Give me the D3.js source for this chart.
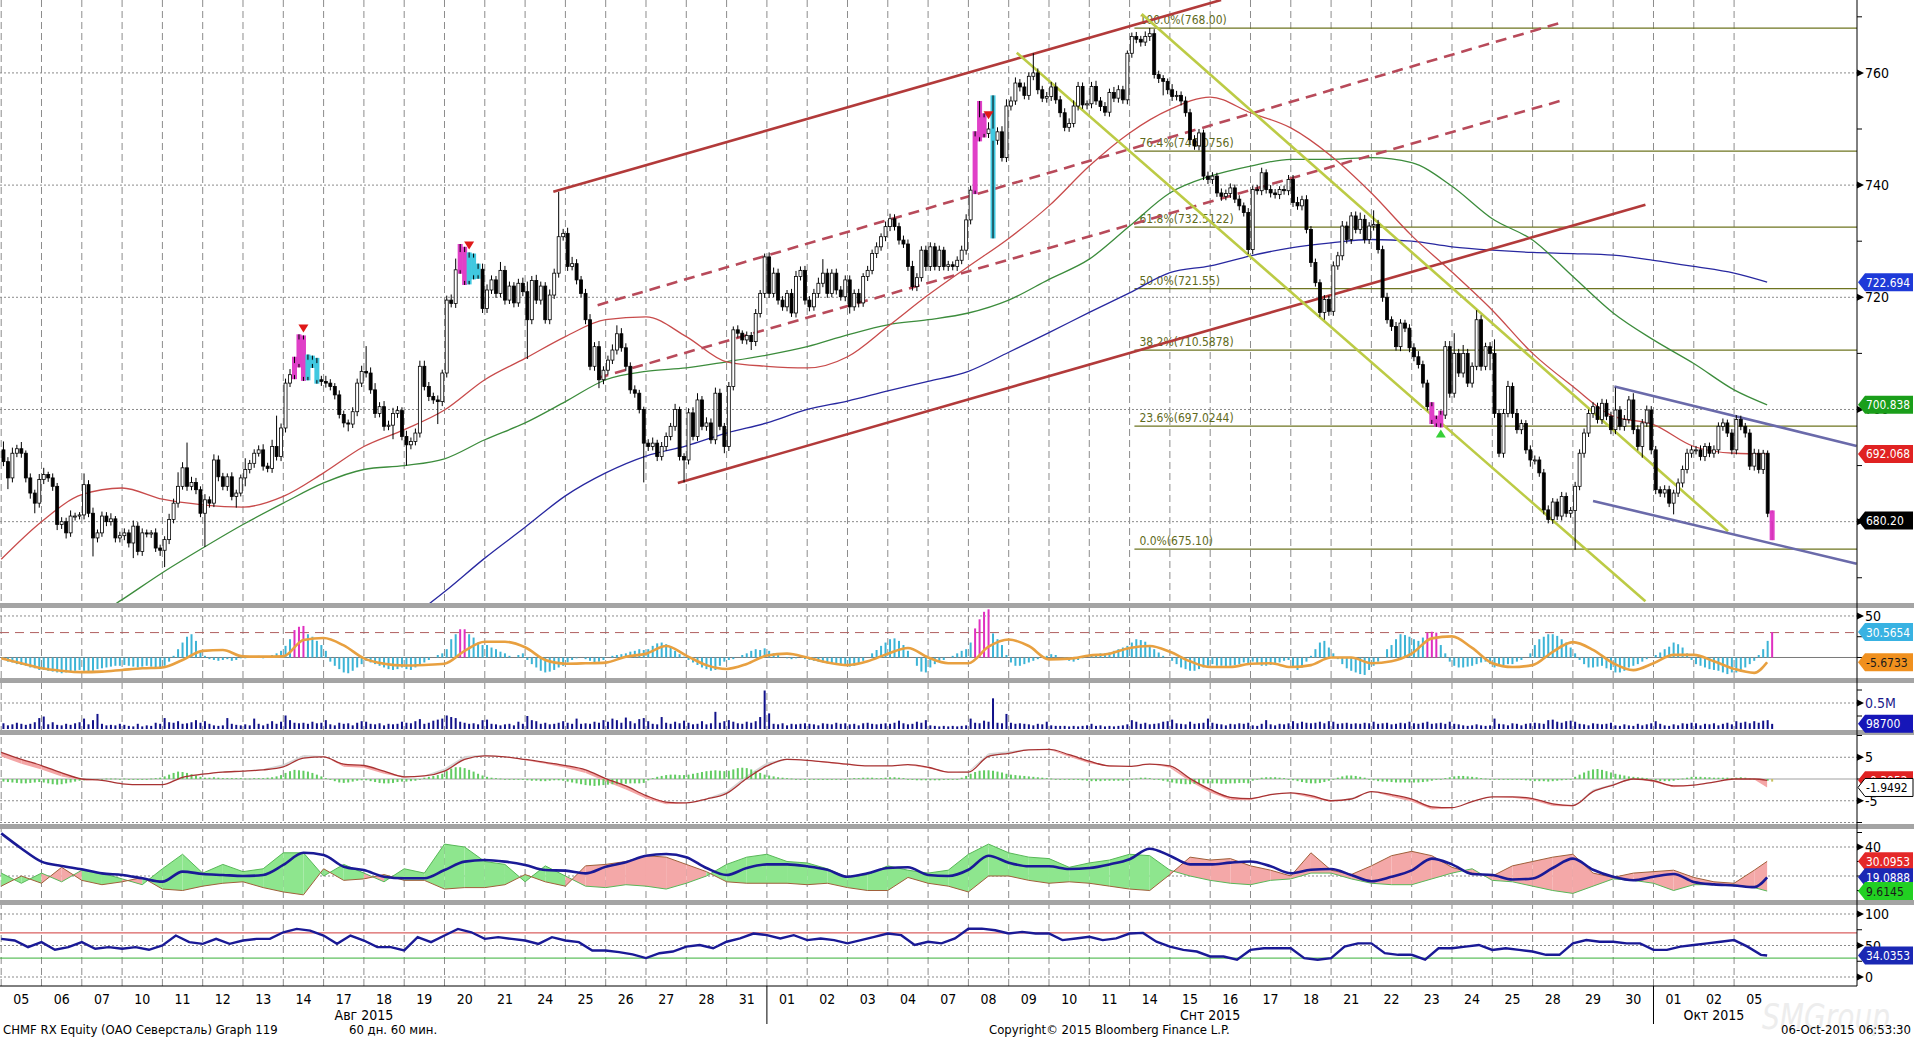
<!DOCTYPE html>
<html>
<head>
<meta charset="utf-8">
<script src="https://cdnjs.cloudflare.com/ajax/libs/d3/7.8.5/d3.min.js"></script>
<style>
  body { margin: 0; background: #fff; }
  svg { display: block; }
  text { font-family: "Liberation Sans Narrow", "DejaVu Sans Condensed", "Liberation Sans", sans-serif; }
</style>
</head>
<body>
<div id="chart"></div>
<script>
// ---- data (60 min bars, 9 per trading day) ----
const days = ["05","06","07","10","11","12","13","14","17","18","19","20","21","24","25","26","27","28","31",
  "01","02","03","04","07","08","09","10","11","14","15","16","17","18","21","22","23","24","25","28","29","30",
  "01","02","05"];
const months = [
  {name: "Авг 2015", from: -1, to: 19},
  {name: "Снт 2015", from: 19, to: 41},
  {name: "Окт 2015", from: 41, to: 44}
];

const firstOpen = 692.8;
const closes = [
  [690.7,687.8,692.2,693.0,692.2,687.8,685.1,683.3,687.5],
  [688.4,687.8,686.3,679.5,680.0,678.0,681.0,681.0,681.2],
  [686.6,681.5,677.1,678.0,681.0,680.0,680.5,677.1,677.5],
  [678.0,676.2,679.2,674.7,678.0,677.8,678.0,675.3,674.9],
  [676.8,680.4,683.3,686.3,689.6,686.3,687.0,685.7,681.5],
  [683.9,683.3,691.0,688.0,686.3,688.0,684.5,685.1,687.8],
  [689.3,690.4,692.2,692.8,689.9,689.5,693.4,691.6,696.7],
  [704.7,706.2,708.2,712.4,705.9,708.8,708.2,705.3,705.0],
  [704.7,704.1,702.6,699.1,697.6,697.4,699.6,704.7,706.8],
  [706.5,703.5,699.3,700.5,697.0,697.2,699.3,699.8,695.2],
  [693.7,694.3,695.8,707.7,704.1,702.3,701.7,701.4,706.5],
  [719.5,718.9,724.9,728.0,723.0,727.0,724.0,725.0,718.0],
  [721.3,723.1,720.7,724.8,719.5,722.0,719.0,722.5,721.0],
  [716.0,723.0,719.5,722.0,716.0,720.4,724.3,730.8,731.4],
  [725.5,726.0,723.1,720.7,716.0,707.7,711.2,705.3,707.0],
  [708.8,710.6,713.5,711.0,707.7,703.5,702.9,700.0,694.0],
  [693.4,694.0,691.6,693.4,695.2,697.0,700.0,691.6,691.0],
  [699.4,695.2,701.7,697.0,697.6,694.6,702.9,697.0,693.4],
  [704.1,714.2,713.6,712.4,713.2,712.1,717.1,720.7,727.2],
  [720.7,724.3,719.5,718.3,720.7,717.2,723.7,724.8,719.5],
  [718.3,720.7,722.5,724.3,720.7,724.3,721.3,720.1,723.1],
  [718.3,720.7,719.0,723.7,724.8,727.8,729.0,730.8,732.6],
  [734.0,732.6,730.2,729.5,725.5,721.9,723.5,728.4,725.5],
  [729.0,725.5,728.4,725.5,725.8,725.5,726.6,728.4,733.8],
  [739.1,748.6,752.0,749.2,750.0,748.0,749.5,744.9,754.1],
  [755.0,758.2,757.5,756.0,759.4,760.0,757.0,755.5,755.8],
  [757.5,755.2,752.9,750.3,751.0,754.1,757.6,754.3,754.5],
  [757.6,755.0,754.0,753.0,756.5,755.5,757.0,755.2,763.5],
  [766.5,766.0,765.5,766.5,767.0,759.7,759.0,758.5,757.0],
  [755.8,756.0,755.0,752.9,748.1,747.0,749.3,741.6,741.0],
  [741.6,738.6,738.0,738.5,739.5,737.5,736.3,735.1,728.5],
  [739.2,739.0,742.2,739.2,738.6,738.3,739.2,739.0,741.0],
  [736.9,736.3,737.4,732.1,726.2,722.6,717.3,719.6,717.5],
  [725.6,727.4,732.7,730.3,734.5,732.1,733.9,730.3,732.7],
  [733.0,728.5,720.0,716.0,714.8,711.2,715.4,714.5,711.0],
  [709.4,708.0,704.7,700.5,698.2,697.6,699.0,711.2,702.9],
  [710.0,706.5,710.0,704.7,707.7,716.0,707.7,711.2,710.0],
  [699.3,692.2,699.3,704.1,699.3,696.4,697.5,692.8,691.0],
  [691.0,688.7,682.1,680.4,683.5,681.0,684.5,681.5,682.0],
  [686.3,692.2,695.8,699.3,700.5,698.2,701.1,698.8,696.4],
  [699.9,697.0,698.2,701.7,696.4,693.4,697.6,699.9,692.8],
  [685.7,685.1,685.7,683.3,685.1,686.9,689.3,692.2,692.8],
  [692.8,691.6,693.4,692.2,692.8,697.0,697.6,695.8,692.8],
  [698.2,697.0,695.8,689.9,692.2,689.3,692.2,681.5,680.2]
].flat();

// shadow length above / below the body of each bar
const wickHi = [
  [1.5,0.8,1,0.7,1.2,0.5,0.8,0.6,1],[1.2,0.5,0.8,0.6,0.8,0.7,1,0.6,0.5],[2,0.8,1,0.6,0.8,0.7,1,0.5,0.7],
  [0.8,0.6,1,0.7,0.8,0.6,0.5,0.8,0.6],[0.6,1,0.8,2.5,1,4.5,1,0.8,0.6],[1,0.6,1,0.8,0.7,0.6,0.8,0.6,0.6],
  [2,0.6,0.7,0.8,1,0.6,1.2,5.5,0.8],[0.8,1,1.2,1,0.8,1,0.8,1,0.7],[1,0.7,0.6,0.8,0.7,0.6,0.8,0.8,1],
  [4.5,1,1.2,0.8,1,0.8,1,0.8,0.6],[1,0.7,0.8,1,1,0.8,0.7,0.8,0.6],[0.8,1,2,1.5,1,1,0.8,1,1],
  [1,0.8,0.7,1.5,0.8,0.8,0.7,0.8,1],[1.8,0.8,1,0.8,0.7,1,0.8,8,0.8],[1,1.2,0.8,0.7,0.8,1,0.8,1,0.7],
  [0.8,1,1.5,1,0.8,0.7,0.8,0.6,0.5],[0.7,1,0.6,0.8,0.7,0.6,1,0.5,0.6],[0.8,1,1.2,0.7,1,0.8,1,0.8,0.6],
  [0.8,0.6,0.8,0.5,0.7,0.6,0.8,0.6,0.6],[0.8,1,0.8,0.7,0.6,0.8,1,0.7,0.8],[0.7,0.8,1,2.5,0.8,0.7,0.8,0.7,0.8],
  [0.8,0.7,0.8,0.6,0.8,0.7,0.8,0.6,0.9],[0.9,0.8,0.7,0.8,0.8,1,0.8,0.7,0.8],[0.8,0.7,0.8,0.6,0.7,0.6,0.7,0.8,1],
  [0.8,1,3,0.8,1.2,6,0.8,1,1.2],[0.8,1,0.7,0.8,0.7,3.5,0.8,0.7,0.8],[0.9,0.8,0.7,0.8,0.9,1,0.8,0.7,0.6],
  [0.8,1,0.7,0.8,0.7,1,0.8,0.7,0.5],[0.7,0.8,0.6,0.9,1,0.8,0.7,0.6,0.5],[1,0.8,0.7,0.8,0.7,0.8,0.7,0.6,0.8],
  [0.7,0.6,0.8,0.7,0.8,0.6,0.7,0.6,0.8],[0.7,0.8,0.9,0.6,0.8,0.7,0.6,0.7,0.8],[0.8,1,0.7,0.8,0.6,0.7,0.6,0.8,0.7],
  [0.8,0.7,0.9,0.8,0.7,0.8,1.2,0.8,0.7],[2.5,0.8,0.7,0.8,0.6,0.8,0.7,0.6,0.7],[0.8,1,0.7,0.6,0.8,0.7,0.8,1,1],
  [3.6,0.8,1.5,0.8,0.7,1.7,0.8,0.7,0.8],[2.5,0.8,0.8,1,0.7,0.8,0.7,0.6,0.8],[0.8,0.6,0.7,0.8,0.7,0.6,0.8,0.7,0.6],
  [0.8,0.7,0.8,0.7,0.8,0.7,0.8,0.7,0.8],[4,0.7,0.8,0.7,1.2,0.8,0.7,0.8,0.7],[0.7,0.6,0.8,0.7,0.6,0.8,0.7,0.8,0.7],
  [0.7,0.8,0.6,0.7,0.8,0.7,0.8,0.6,0.7],[0.8,0.7,0.6,0.7,0.8,0.7,0.6,0.5,0.5]
].flat();
const wickLo = [
  [0.8,2,0.8,0.7,0.8,0.8,1,1.8,0.8],[0.8,0.7,0.8,1,0.8,1,0.7,0.8,0.6],[0.8,0.7,3.3,0.8,0.7,0.8,0.7,0.8,0.8],
  [0.8,0.8,2.7,0.7,0.8,0.6,0.7,0.7,1],[3,0.8,0.7,0.8,0.6,0.8,0.7,0.8,0.7],[6,0.8,0.7,0.8,0.7,0.8,0.7,2,0.6],
  [1.5,0.7,0.8,0.6,0.8,0.7,0.8,0.7,0.8],[0.8,0.7,0.8,0.7,0.8,0.7,0.8,0.7,0.8],[0.8,0.7,0.8,0.7,0.8,1.3,0.7,0.8,0.7],
  [0.8,0.7,0.8,0.7,0.8,0.7,2.5,0.8,0.7],[3.7,0.8,0.7,0.8,0.7,0.8,0.7,4,0.8],[0.8,0.7,0.8,0.7,0.8,0.7,0.8,0.7,0.8],
  [0.8,0.7,0.8,0.7,0.8,0.7,0.8,0.7,0.8],[7,0.8,0.7,0.8,0.7,0.8,0.7,0.8,0.7],[0.8,0.7,0.8,0.7,0.8,0.7,0.8,1.5,0.8],
  [0.8,0.7,0.8,0.7,0.8,0.7,0.8,0.7,7],[0.8,0.7,0.8,0.7,0.8,0.7,0.8,0.7,4],[0.8,0.7,0.8,0.7,0.8,0.7,0.8,0.7,1.2],
  [0.8,0.7,0.8,0.7,0.8,1.5,0.8,0.7,0.8],[0.8,0.7,0.8,0.7,0.8,0.7,0.8,0.7,0.8],[0.8,0.7,0.8,0.7,0.8,0.7,0.8,0.7,0.8],
  [1.2,0.7,0.8,0.7,0.8,0.7,0.8,0.7,0.8],[0.8,0.7,0.8,0.7,0.8,0.7,0.8,0.7,0.8],[0.8,0.7,0.8,0.7,0.8,0.7,0.8,0.7,0.8],
  [0.8,0.7,0.8,0.7,0.8,17.5,0.8,0.7,0.8],[0.8,0.7,0.8,0.7,0.8,0.7,0.8,0.7,0.8],[0.8,0.7,0.8,0.7,0.8,0.7,0.8,0.7,0.8],
  [0.8,0.7,0.8,0.7,0.8,0.7,0.8,0.7,0.8],[0.8,0.7,0.8,0.7,0.8,0.7,0.8,2.5,0.8],[0.8,0.7,0.8,0.7,0.8,0.7,0.8,0.7,0.8],
  [0.8,0.7,0.8,0.7,0.8,0.7,0.8,0.7,0.8],[0.8,0.7,0.8,0.7,0.8,0.7,0.8,0.7,0.8],[0.8,0.7,0.8,0.7,0.8,0.7,0.8,1.3,0.8],
  [0.8,0.7,0.8,0.7,0.8,0.7,0.8,0.7,0.8],[0.8,0.7,0.8,0.7,0.8,0.7,0.8,0.7,0.8],[0.8,0.7,0.8,0.7,0.8,0.7,0.8,0.7,0.8],
  [0.8,0.7,0.8,0.7,0.8,0.7,0.8,0.7,3],[0.8,0.7,0.8,0.7,0.8,0.7,0.8,0.7,1.2],[0.8,0.7,0.8,0.7,0.8,0.7,0.8,0.7,0.8],
  [7,0.7,0.8,0.7,0.8,0.7,0.8,0.7,0.8],[0.8,0.7,0.8,0.7,0.8,0.7,2,0.7,0.8],[0.8,0.7,0.8,0.7,2,0.7,0.8,0.7,0.8],
  [0.8,0.7,0.8,0.7,0.8,0.7,0.8,0.7,0.8],[0.8,0.7,0.8,0.7,0.8,0.7,0.8,0.7,3.5]
].flat();

// highlighted bars [day, bar of day] and signal marks
const magentaBars = [[7,2],[7,3],[7,4],[11,3],[11,4],[24,1],[24,2],[24,3],[35,4],[35,5],[35,6],[43,8]];
const cyanBars = [[7,5],[7,6],[7,7],[11,5],[11,6],[11,7],[24,5]];
const sellMarks = [[7,4],[11,5],[24,4]];
const buyMarks = [[35,6]];

// moving averages sampled at each day start (last value = current)
const maRed = [673.3,680,684.8,686,684,683,682.6,684.5,688.7,693.4,696.4,699.9,705.3,709.1,713,716,716.5,713,
  708.5,707.7,707.4,709.4,714.8,720.4,725.5,730.5,736.3,743.4,749.3,753.5,755.7,752.9,750.2,745.2,738.6,731,
  724.5,717.7,710,704.1,698.8,697.3,693.4,692.2,692.068];
const maGreen = [null,null,661.5,666.1,670.9,675.3,679.5,683.3,686.9,689.3,690,691.2,694.6,697.6,701.4,705.3,
  706.8,707.4,708.5,709.7,711.2,713.3,715.1,716,717.2,719.5,723.2,726.8,732.7,738.6,741.6,743.4,744.6,744.6,
  744.9,744,739.8,734,730.2,723.7,717.2,712.4,708.2,703.5,700.838];
const maBlue = [null,null,null,null,null,null,null,null,null,null,662,667.5,673.5,679,684.6,688.7,691.7,693.5,
  695.8,697.6,700,701.5,703.3,705,706.8,710.2,713.7,717.3,720.8,724.4,725.6,727.4,728.8,729.7,730.3,730,729,
  728.4,728,727.8,727.5,726.6,725.5,724.3,722.694];

// drawn studies: [day1, price1, day2, price2]
const channelLines = [[13.7,738.8,30.27,773],[16.79,686.9,40.8,736.5]];
const dashedLines = [[14.8,718.6,38.68,768.9],[14.8,705.6,38.68,755]];
const yellowLines = [[28.3,770.5,42.85,678.3],[25.2,763.6,40.8,665.8]];
const slateLines = [[40.03,704.1,46.04,693.5],[39.5,683.7,46.04,672.5]];

const fibStartDay = 28.12;
const fibLow = 675.10, fibHigh = 768.00;
const fibRatios = [0, 0.236, 0.382, 0.5, 0.618, 0.764, 1];
const fibLabels = ["0.0%(675.10)","23.6%(697.0244)","38.2%(710.5878)","50.0%(721.55)","61.8%(732.5122)",
  "76.4%(746.0756)","100.0%(768.00)"];

// oscillator histogram (per bar) and its signal (per half day)
const oscHist = [
  [-3,-5,-6,-8,-9,-10,-12,-13,-15],[-15,-16,-17,-18,-19,-18,-17,-16,-15],[-16,-17,-16,-14,-13,-12,-11,-10,-10],
  [-9,-10,-11,-12,-11,-10,-11,-12,-12],[-10,-5,2,10,18,25,28,20,8],[2,-2,-3,-4,-3,-2,-4,-3,-1],
  [-1,0,1,2,-1,0,3,5,8],[14,22,33,37,38,28,25,20,15],[8,-5,-10,-14,-18,-19,-16,-12,-8],
  [-4,-6,-8,-10,-12,-14,-15,-14,-12],[-14,-15,-12,-10,-6,-3,0,3,5],[10,22,28,34,34,28,24,18,15],
  [15,12,10,7,5,2,0,3,5],[-3,-8,-12,-16,-18,-17,-15,-12,-10],[-6,-3,-1,0,-2,-4,-6,-5,-3],
  [0,2,3,4,5,7,8,10,9],[10,14,17,18,16,12,8,4,1],[-3,-6,-9,-12,-14,-16,-15,-10,-5],
  [-3,-2,0,3,5,8,10,9,11],[8,5,3,0,-1,-2,-1,0,-2],[-3,-4,-5,-6,-7,-7,-8,-8,-9],
  [-11,-10,-7,-4,0,5,9,14,18],[22,23,20,15,8,0,-10,-17,-18],[-12,-8,-5,-3,0,2,5,8,10],
  [18,35,46,55,58,29,22,15,3],[-6,-10,-10,-8,-6,-4,-2,0,2],[4,3,0,-2,-4,-5,-3,-1,0],
  [2,3,5,5,6,8,10,12,14],[18,22,21,19,15,10,6,2,0],[-4,-8,-12,-14,-16,-16,-14,-12,-10],
  [-8,-10,-10,-11,-10,-9,-8,-6,-8],[-5,-8,-10,-10,-9,-8,-6,-4,-3],[-12,-15,-12,-5,2,10,18,20,12],
  [5,-2,-8,-13,-16,-18,-20,-21,-15],[-10,-5,0,10,15,22,28,27,25],[22,20,24,30,31,30,15,5,-5],
  [-10,-12,-12,-11,-10,-8,-6,-5,-8],[-12,-10,-9,-8,-8,-5,-3,0,5],[15,22,25,28,28,26,22,18,12],
  [5,-3,-8,-12,-12,-11,-10,-13,-15],[-18,-18,-16,-12,-10,-8,-5,-2,0],[3,6,10,13,18,16,12,5,-3],
  [-8,-10,-12,-14,-15,-16,-18,-20,-18],[-18,-15,-12,-8,-4,3,10,20,30.5654]
].flat();
const oscSignal = [-1,-7,-13,-16,-17.6,-17,-15,-13,-12,-3,
  8,9,1.3,1,1.3,21,23.4,14.5,-1,-7.5,
  -9.7,-9,-7.5,8,19,19,12.3,-3,-7.5,-7,
  -6.2,1,4.6,13.8,2.3,-9.2,-13.8,-7.8,2.3,4.6,
  0,-6,-9.2,-4.6,4.6,11.5,0,-6.9,-6.9,13,
  21.7,13.8,-2.3,-1.4,2.3,4.6,11.5,13.8,6.9,-4.6,
  -11.5,-11.5,-7.5,-6.9,-11.5,-9.2,0,0,-6.9,-4.6,
  4.6,23,25.4,11.5,-6.9,-11.5,-9.2,6.9,18.5,9.2,
  -6.9,-15.2,-6.9,3.2,3.2,-4.6,-13.8,-18.5,-5.6733];

// volume per bar, thousands
const volume = [
  [110,70,90,120,100,80,100,130,210],[240,90,130,80,70,100,80,110,130],[200,90,170,290,100,70,80,70,100],
  [80,60,50,100,50,70,60,120,100],[210,130,120,150,100,110,130,170,120],[150,100,70,60,70,210,100,80,70],
  [90,70,200,100,70,100,150,100,140],[260,170,120,110,120,100,140,110,120],[170,90,70,120,100,110,70,120,150],
  [140,100,90,110,70,100,90,100,140],[120,110,150,190,100,120,160,180,200],[260,230,210,140,120,100,110,90,170],
  [180,100,90,70,90,100,70,140,100],[250,170,150,100,120,90,100,120,150],[120,100,200,100,110,100,140,120,170],
  [140,200,170,120,220,150,110,190,210],[150,100,90,230,120,100,140,110,160],[120,90,100,150,90,110,330,120,150],
  [170,140,110,100,140,120,150,230,740],[300,100,90,110,70,100,90,100,110],[100,90,70,110,100,90,120,100,110],
  [90,100,70,110,120,100,90,100,110],[100,120,160,110,90,100,140,120,170],[70,60,50,60,50,60,50,60,70],
  [200,120,110,160,140,590,120,110,290],[120,100,110,100,90,70,100,90,140],[70,60,60,60,50,60,50,60,70],
  [100,60,70,50,60,50,60,70,90],[170,140,100,120,90,100,110,140,150],[180,110,100,90,140,100,110,120,200],
  [120,100,90,70,100,90,110,100,120],[70,60,100,170,90,70,100,90,110],[150,110,140,120,110,120,140,110,150],
  [140,100,110,120,100,110,100,120,110],[140,100,110,120,90,100,120,110,140],[110,100,120,140,100,110,120,100,140],
  [100,90,70,60,70,90,70,60,70],[200,100,90,70,110,100,70,100,110],[120,110,100,170,180,140,120,150,160],
  [140,100,90,70,110,100,90,100,120],[70,60,90,70,60,100,70,90,110],[150,100,70,60,90,70,110,100,120],
  [110,70,100,90,110,70,100,120,90],[150,120,140,110,150,120,160,170,98.7]
].flat();

// MACD-style study: line, companion band (per half day) and histogram (per bar)
const macdLine = [6.1,4.5,3.1,1.4,0,-0.3,-1.1,-1.3,-1.3,0.4,
  1.1,1.6,1.8,2.1,2.8,4.8,5.1,3.4,3.1,1.8,
  0.5,0.7,1.8,4.5,5.3,5.1,4.5,3.8,3.1,2.1,
  0.1,-1.6,-3.8,-5.3,-5.5,-4.6,-3.3,0.1,3,4.5,
  4.3,3.9,3.4,3,3,3.3,2.7,1.6,1.6,5.2,
  5.9,6.7,6.8,5.6,4.1,3,2.9,3.4,3,0.1,
  -2.4,-4.2,-4.5,-3.6,-3.2,-3.8,-5,-4.6,-2.9,-3.6,
  -4.6,-6.4,-6.6,-5.2,-4.1,-4.1,-4.5,-5.7,-6.1,-2.9,
  -1.4,0,-0.4,-1.6,-1.4,-0.7,0,0,-0.3];
const macdBand = [5.2,3.5,2.2,0.6,-0.3,-0.3,-1.1,-1.3,-1.3,0.6,
  1.2,1.7,1.9,2.3,3.4,5.5,5.3,2.8,2.6,1.2,
  0.3,0.8,2.4,5.3,5.6,5.1,4.3,3.5,2.6,1.4,
  -0.6,-2.4,-4.5,-5.8,-5.6,-4.4,-2.8,0.8,3.8,4.7,
  4.3,3.7,3.2,3,3.1,3.2,2.5,1.5,1.8,5.9,
  6.4,6.9,6.8,5.1,3.6,2.8,2.9,3.5,2.6,-0.6,
  -3.1,-4.8,-4.9,-3.4,-3.3,-4.3,-5.3,-4.3,-2.8,-4.1,
  -5.2,-7,-6.7,-5,-4.1,-4.3,-4.9,-6.2,-6.3,-2.4,
  -1.1,0.1,-0.7,-1.9,-1.4,-0.6,0,-0.1,-1.9492];
const macdHist = [
  [-0.6,-0.7,-0.8,-0.9,-1,-1,-0.9,-0.8,-0.7],[-0.8,-1,-1.2,-1.3,-1.2,-1,-0.8,-0.6,-0.4],[-0.3,-0.2,-0.2,-0.1,0,0.1,0.1,0.1,0],
  [0.1,0,-0.1,-0.2,-0.1,0,0.1,0.2,0.3],[0.6,1,1.4,1.7,1.6,1.4,1.1,0.8,0.5],[0.3,0.3,0.4,0.3,0.2,0.2,0.2,0.2,0.2],
  [0.1,0.1,0.2,0.2,0.2,0.3,0.4,0.6,0.9],[1.4,1.8,2.1,2,1.9,1.7,1.4,1,0.6],[0.2,-0.2,-0.5,-0.8,-0.9,-0.8,-0.6,-0.4,-0.3],
  [-0.3,-0.5,-0.7,-0.9,-1,-1,-0.9,-0.7,-0.6],[-0.6,-0.5,-0.4,0,0.3,0.5,0.7,0.9,1.2],[1.8,2.4,2.7,2.7,2.5,2.1,1.7,1.2,0.8],
  [0.5,0.3,0.2,0.1,0,0,-0.1,-0.1,-0.2],[-0.3,-0.4,-0.4,-0.5,-0.5,-0.4,-0.3,-0.3,-0.4],[-0.6,-0.8,-1,-1.2,-1.4,-1.5,-1.6,-1.5,-1.4],
  [-1.3,-1.2,-1.2,-1.1,-1.1,-1,-1,-1,-0.9],[-0.3,0.2,0.5,0.7,0.9,1,1,0.9,0.9],[1,1.2,1.4,1.6,1.8,1.9,2,1.9,1.8],
  [1.9,2.2,2.5,2.6,2.5,2.2,1.8,1.4,1],[0.8,0.6,0.4,0.3,0.2,0.1,0,0,0],[-0.1,-0.1,-0.2,-0.2,-0.2,-0.1,-0.1,0,0],
  [0.1,0.2,0.2,0.3,0.3,0.3,0.2,0.2,0.3],[0.4,0.4,0.3,0.2,0,-0.2,-0.3,-0.3,-0.3],[-0.3,-0.3,-0.3,-0.2,-0.2,-0.1,0,0.3,0.7],
  [1.2,1.6,1.9,2,2,1.9,1.7,1.5,1.2],[1,0.9,0.8,0.7,0.6,0.5,0.4,0.3,0.2],[0.1,0,0,-0.1,-0.1,-0.2,-0.2,-0.3,-0.4],
  [-0.5,-0.5,-0.5,-0.4,-0.4,-0.4,-0.4,-0.4,-0.3],[-0.2,0.1,0.3,0.3,0.2,0,-0.2,-0.4,-0.6],[-0.8,-1,-1.1,-1.2,-1.2,-1.1,-1.1,-1,-1],
  [-1,-1,-1.1,-1.1,-1,-1,-0.9,-0.9,-1],[-0.4,0,0.3,0.4,0.4,0.4,0.3,0.2,0],[-0.3,-0.5,-0.7,-0.9,-1,-1,-0.9,-0.7,-0.4],
  [0,0.3,0.6,0.8,0.8,0.7,0.5,0.3,0],[-0.3,-0.5,-0.6,-0.6,-0.7,-0.8,-0.8,-0.8,-0.8],[-0.8,-0.8,-0.7,-0.6,-0.4,-0.2,0,0.2,0.4],
  [0.6,0.7,0.7,0.6,0.5,0.4,0.2,0.1,0],[0,-0.1,-0.1,0,0,-0.1,-0.2,-0.3,-0.4],[-0.5,-0.5,-0.5,-0.6,-0.5,-0.4,-0.3,-0.2,0],
  [0.5,1,1.5,1.9,2.2,2.3,2.1,1.8,1.5],[1.2,1,0.8,0.6,0.5,0.4,0.3,0.2,0],[-0.3,-0.5,-0.5,-0.5,-0.4,-0.2,0.1,0.3,0.5],
  [0.5,0.5,0.4,0.4,0.3,0.3,0.3,0.3,0.2],[0.3,0.4,0.3,0.1,0,-0.1,-0.2,-0.4,-0.6]
].flat();

// directional movement (per half day)
const adx = [49.4,39,29.9,26.9,24.6,21.8,20.7,18.4,16.1,23,
  21.4,20.7,20,20.7,27.6,36,34.5,26.4,24.1,19.5,
  18.4,18.4,24.1,29.9,31,29.9,27.6,24.1,23.7,21.8,
  26.4,29.5,34,35.2,33,25.5,20.7,25.5,28,28,
  26.7,24.3,19.5,21.9,25.5,26,20.7,20,24.3,34,
  29.2,26.7,26.7,24.8,25.5,28,31.6,38.8,34,28,
  28,29.2,30,26.7,21.9,24.3,24.8,20.7,16.4,19.5,
  23.9,32,28,21.4,20.7,17.6,18.3,25.5,32,24.3,
  19.5,17.1,19.5,21.4,15.9,14.2,13.5,12.3,19.0888];
const diPlus = [22,15,22,16,24,22,18,14,25,35,
  22,28,23,25,36,36,20,28,22,16,
  25,22,42,40,30,28,16,27,20,13,
  12,14,13,11,15,20,28,33,35,30,
  29,25,19,21,27,24,22,24,35,42,
  36,33,32,26,29,31,35,34,24,20,
  17,15,14,17,18,22,22,18,15,14,
  14,18,22,25,17,16,13,10,8,13,
  18,17,15,10,14,14,14,12,9.6145];
const diMinus = [13,20,15,26,17,14,16,19,11,10,
  13,15,16,12,9,7,25,17,18,21,
  17,17,11,12,12,14,21,16,13,27,
  28,30,34,33,28,23,16,15,15,15,
  14,15,12,10,10,19,15,13,9,20,
  20,17,15,16,15,13,11,10,21,33,
  31,32,27,24,20,36,24,21,27,34,
  37,34,26,22,20,27,30,33,35,22,
  19,22,23,24,19,16,15,24,30.0953];

// RSI (per third of a day)
const rsi = [60.5,58,47.4, 55.3,43.2,47.4, 55.3,44.8,47.4, 44.8,47.4,43.2, 50,65.8,55.3,
  52.6,60.5,52.6, 57.9,60.5,60.5, 71,76.3,73.7, 65.8,52.6,65.8, 57.9,47.4,47.4,
  42.1,63.2,55.3, 65.8,76.3,71, 60.5,63.2,60.5, 57.9,52.6,63.2, 57.9,55.3,42.1,
  42.1,39.5,36, 30,37.8,40.4, 48.2,50.8,45.6, 56,61.2,69, 66.4,61.2,66.4,
  58.6,61.2,58.6, 53.4,58.6,63.8, 69,66.4,50.8, 56,53.4,61.2, 76.7,76.7,74.2,
  69,71.6,69, 69,58.6,61.2, 63.8,58.6,61.2, 69,70,56, 48.2,43,40.4,
  32.6,32.6,27.4, 43,45.6,45.6, 45.6,30,27.4, 30,48.2,53.4, 53.4,37.8,35.2,
  35.2,27.4,45.6, 45.6,48.2,50.8, 43,45.6,43, 40.4,35.2,35.2, 53.4,58.6,56,
  56,53.4,53.4, 43,43,48.2, 50.8,53.4,56, 58.6,48.2,35.2, 34.0353];

// ---- layout ----
const W = 1914, H = 1037;
const plotRight = 1857;
const barsPerDay = 9;
const lastDay = 43.82;

const svg = d3.select("#chart").append("svg").attr("width", W).attr("height", H);
svg.append("rect").attr("width", W).attr("height", H).attr("fill", "#fff");

const x = d3.scaleLinear().domain([0, 46.05]).range([1.2, plotRight]);
const barPos = i => Math.floor(i / barsPerDay) + ((i % barsPerDay) + 0.5) / barsPerDay;
const dayPos = d3.range(44).concat([lastDay]);
const halfPos = d3.range(88).map(i => i / 2).concat([lastDay]);
const thirdPos = d3.range(132).map(i => i / 3).concat([lastDay]);

const panels = {
  main: {top: 0, bottom: 603},
  osc: {top: 608, bottom: 678},
  vol: {top: 683, bottom: 730},
  macd: {top: 735, bottom: 824},
  dmi: {top: 829, bottom: 900},
  rsi: {top: 905, bottom: 986}
};

const yMain = d3.scaleLinear().domain([665.5, 773]).range([603, 0]);
const yOsc = d3.scaleLinear().domain([-24.7, 59.6]).range([678, 608]);
const yVol = d3.scaleLinear().domain([0, 500]).range([729, 703]);
const yMacd = d3.scaleLinear().domain([-10, 10]).range([822.5, 735.5]);
const yDmi = d3.scaleLinear().domain([0, 40]).range([905, 847]);
const yRsi = d3.scaleLinear().domain([0, 100]).range([977, 914]);

const defs = svg.append("defs");
Object.entries(panels).forEach(([k, p]) => {
  defs.append("clipPath").attr("id", "clip-" + k)
    .append("rect").attr("x", 0).attr("y", p.top).attr("width", plotRight).attr("height", p.bottom - p.top);
});
const layer = k => svg.append("g").attr("clip-path", `url(#clip-${k})`);

// squeeze a text into a given width if the font runs wider
function fit(sel, maxW) {
  const n = sel.node();
  if (n.getComputedTextLength() > maxW) sel.attr("textLength", maxW).attr("lengthAdjust", "spacingAndGlyphs");
  return sel;
}

// ---- grid ----
const grid = svg.append("g");
d3.range(44).forEach(d => {
  grid.append("line").attr("x1", x(d)).attr("x2", x(d)).attr("y1", 0).attr("y2", 986)
    .attr("stroke", "#8c8c8c").attr("stroke-dasharray", "7,4").attr("stroke-width", 1);
});
function hDotted(y) {
  grid.append("line").attr("x1", 0).attr("x2", plotRight).attr("y1", y).attr("y2", y)
    .attr("stroke", "#8a8a8a").attr("stroke-dasharray", "2,2").attr("stroke-width", 1);
}
[680, 700, 720, 740, 760].forEach(v => hDotted(yMain(v)));
hDotted(yOsc(50));
hDotted(yVol(500));
[5, -5, -10].forEach(v => hDotted(yMacd(v)));
[40, 20].forEach(v => hDotted(yDmi(v)));
[100, 50, 0].forEach(v => hDotted(yRsi(v)));

// ---- main panel ----
const gMain = layer("main");
const priceLine = (d1, p1, d2, p2) => `M${x(d1)},${yMain(p1)}L${x(d2)},${yMain(p2)}`;

// fibonacci levels
fibRatios.forEach((r, i) => {
  const v = fibLow + r * (fibHigh - fibLow);
  gMain.append("line").attr("x1", x(fibStartDay)).attr("x2", plotRight)
    .attr("y1", yMain(v)).attr("y2", yMain(v)).attr("stroke", "#6e7420").attr("stroke-width", 1.2);
  gMain.append("text").attr("x", x(fibStartDay) + 5).attr("y", yMain(v) - 4)
    .attr("font-size", 12).attr("fill", "#5f6a1c").text(fibLabels[i]);
});

// moving averages
const maLine = d3.line().defined(d => d[1] != null).x(d => x(d[0])).y(d => yMain(d[1])).curve(d3.curveMonotoneX);
[[maBlue, "#2828a0"], [maGreen, "#3c8c3c"], [maRed, "#c84b4b"]].forEach(([arr, c]) => {
  gMain.append("path").attr("d", maLine(arr.map((v, i) => [dayPos[i], v])))
    .attr("fill", "none").attr("stroke", c).attr("stroke-width", 1.3);
});

// drawn trend lines
channelLines.forEach(l => gMain.append("path").attr("d", priceLine(...l))
  .attr("stroke", "#b23a3a").attr("stroke-width", 2.6).attr("fill", "none"));
dashedLines.forEach(l => gMain.append("path").attr("d", priceLine(...l))
  .attr("stroke", "#b84a5a").attr("stroke-width", 2.6).attr("stroke-dasharray", "11,7").attr("fill", "none"));
yellowLines.forEach(l => gMain.append("path").attr("d", priceLine(...l))
  .attr("stroke", "#bccb45").attr("stroke-width", 2.6).attr("fill", "none"));
slateLines.forEach(l => gMain.append("path").attr("d", priceLine(...l))
  .attr("stroke", "#6a6aaa").attr("stroke-width", 2.6).attr("fill", "none"));

// candles
const bars = closes.map((c, i) => {
  const o = i === 0 ? firstOpen : closes[i - 1];
  return {i, o, c, h: Math.max(o, c) + wickHi[i], l: Math.min(o, c) - wickLo[i]};
});
const hiColor = {};
magentaBars.forEach(([d, k]) => hiColor[d * barsPerDay + k] = "#e040c8");
cyanBars.forEach(([d, k]) => hiColor[d * barsPerDay + k] = "#40c8e0");

const candles = gMain.selectAll("g.candle").data(bars).enter().append("g");
candles.filter(b => hiColor[b.i]).append("rect")
  .attr("x", b => x(barPos(b.i)) - 2.5).attr("width", 5)
  .attr("y", b => yMain(b.h)).attr("height", b => yMain(b.l) - yMain(b.h))
  .attr("fill", b => hiColor[b.i]);
candles.append("line")
  .attr("x1", b => x(barPos(b.i))).attr("x2", b => x(barPos(b.i)))
  .attr("y1", b => yMain(b.h)).attr("y2", b => yMain(b.l))
  .attr("stroke", b => hiColor[b.i] && b.i === closes.length - 1 ? "#d030b0" : "#000").attr("stroke-width", 1);
candles.append("rect")
  .attr("x", b => x(barPos(b.i)) - 1.5).attr("width", 3)
  .attr("y", b => yMain(Math.max(b.o, b.c)))
  .attr("height", b => Math.max(1, yMain(Math.min(b.o, b.c)) - yMain(Math.max(b.o, b.c))))
  .attr("fill", b => hiColor[b.i] ? hiColor[b.i] : (b.c >= b.o ? "#fff" : "#000"))
  .attr("stroke", b => hiColor[b.i] ? hiColor[b.i] : "#000").attr("stroke-width", 0.8);

sellMarks.forEach(([d, k]) => {
  const b = bars[d * barsPerDay + k];
  const cx = x(barPos(b.i)), cy = yMain(b.h) - 3;
  gMain.append("path").attr("d", `M${cx - 5},${cy - 8}L${cx + 5},${cy - 8}L${cx},${cy}Z`).attr("fill", "#e01818");
});
buyMarks.forEach(([d, k]) => {
  const b = bars[d * barsPerDay + k];
  const cx = x(barPos(b.i)), cy = yMain(b.l) + 2;
  gMain.append("path").attr("d", `M${cx - 5},${cy + 8}L${cx + 5},${cy + 8}L${cx},${cy}Z`).attr("fill", "#38d038");
});

// ---- oscillator panel ----
const gOsc = layer("osc");
gOsc.append("line").attr("x1", 0).attr("x2", plotRight).attr("y1", yOsc(0)).attr("y2", yOsc(0))
  .attr("stroke", "#7a7a7a");
gOsc.append("line").attr("x1", 0).attr("x2", plotRight).attr("y1", yOsc(30)).attr("y2", yOsc(30))
  .attr("stroke", "#b06060").attr("stroke-dasharray", "9,6");
gOsc.selectAll("rect.h").data(oscHist).enter().append("rect")
  .attr("x", (v, i) => x(barPos(i)) - 1).attr("width", 2)
  .attr("y", v => Math.min(yOsc(v), yOsc(0))).attr("height", v => Math.abs(yOsc(v) - yOsc(0)))
  .attr("fill", v => v >= 30 ? "#e030c0" : "#3cb4d6");
gOsc.append("path").attr("d", d3.line().x((v, i) => x(halfPos[i])).y(v => yOsc(v)).curve(d3.curveMonotoneX)(oscSignal))
  .attr("fill", "none").attr("stroke", "#e8a040").attr("stroke-width", 2.6);

// ---- volume panel ----
const gVol = layer("vol");
gVol.selectAll("rect").data(volume).enter().append("rect")
  .attr("x", (v, i) => x(barPos(i)) - 1).attr("width", 2)
  .attr("y", v => yVol(v)).attr("height", v => yVol(0) - yVol(v)).attr("fill", "#12128a");

// ---- MACD panel ----
const gMacd = layer("macd");
gMacd.append("line").attr("x1", 0).attr("x2", plotRight).attr("y1", yMacd(0)).attr("y2", yMacd(0))
  .attr("stroke", "#a0a0a0");
macdLine.forEach((v, i) => {
  if (i === macdLine.length - 1) return;
  const a = [x(halfPos[i]), yMacd(v)], b = [x(halfPos[i + 1]), yMacd(macdLine[i + 1])];
  const c = [x(halfPos[i + 1]), yMacd(macdBand[i + 1])], d = [x(halfPos[i]), yMacd(macdBand[i])];
  const below = macdBand[i] + macdBand[i + 1] < v + macdLine[i + 1];
  gMacd.append("path").attr("d", `M${a}L${b}L${c}L${d}Z`).attr("fill", below ? "#f4a6a6" : "#d6d6d6");
});
gMacd.selectAll("rect.h").data(macdHist).enter().append("rect")
  .attr("x", (v, i) => x(barPos(i)) - 1).attr("width", 2)
  .attr("y", v => Math.min(yMacd(v), yMacd(0))).attr("height", v => Math.max(0.8, Math.abs(yMacd(v) - yMacd(0))))
  .attr("fill", (v, i) => i === macdHist.length - 1 ? "#c8c060" : "#62cc62");
gMacd.append("path").attr("d", d3.line().x((v, i) => x(halfPos[i])).y(v => yMacd(v)).curve(d3.curveMonotoneX)(macdLine))
  .attr("fill", "none").attr("stroke", "#a83232").attr("stroke-width", 1.3);

// ---- DMI panel ----
const gDmi = layer("dmi");
diPlus.forEach((v, i) => {
  if (i === diPlus.length - 1) return;
  const a = [x(halfPos[i]), yDmi(v)], b = [x(halfPos[i + 1]), yDmi(diPlus[i + 1])];
  const c = [x(halfPos[i + 1]), yDmi(diMinus[i + 1])], d = [x(halfPos[i]), yDmi(diMinus[i])];
  const up = v + diPlus[i + 1] > diMinus[i] + diMinus[i + 1];
  gDmi.append("path").attr("d", `M${a}L${b}L${c}L${d}Z`).attr("fill", up ? "#8ee68e" : "#f4a8a8");
});
const dmiLine = arr => d3.line().x((v, i) => x(halfPos[i])).y(v => yDmi(v))(arr);
gDmi.append("path").attr("d", dmiLine(diPlus)).attr("fill", "none").attr("stroke", "#58b858").attr("stroke-width", 1);
gDmi.append("path").attr("d", dmiLine(diMinus)).attr("fill", "none").attr("stroke", "#a0603a").attr("stroke-width", 1);
gDmi.append("path").attr("d", d3.line().x((v, i) => x(halfPos[i])).y(v => yDmi(v)).curve(d3.curveMonotoneX)(adx))
  .attr("fill", "none").attr("stroke", "#1a1a96").attr("stroke-width", 2.6);

// ---- RSI panel ----
const gRsi = layer("rsi");
gRsi.append("line").attr("x1", 0).attr("x2", plotRight).attr("y1", yRsi(70)).attr("y2", yRsi(70)).attr("stroke", "#d03a3a");
gRsi.append("line").attr("x1", 0).attr("x2", plotRight).attr("y1", yRsi(30)).attr("y2", yRsi(30)).attr("stroke", "#38b038");
gRsi.append("path").attr("d", d3.line().x((v, i) => x(thirdPos[i])).y(v => yRsi(v))(rsi))
  .attr("fill", "none").attr("stroke", "#1a1a96").attr("stroke-width", 2.4);

// ---- separators and axes ----
["main", "osc", "vol", "macd", "dmi"].forEach(k => {
  svg.append("rect").attr("x", 0).attr("width", W).attr("y", panels[k].bottom).attr("height", 5).attr("fill", "#a4a4a4");
});
svg.append("line").attr("x1", plotRight).attr("x2", plotRight).attr("y1", 0).attr("y2", 986).attr("stroke", "#000");
svg.append("line").attr("x1", 0).attr("x2", plotRight).attr("y1", 986).attr("y2", 986).attr("stroke", "#000");

const axis = svg.append("g");
function major(y, label, color) {
  axis.append("path").attr("d", `M${plotRight},${y - 3.5}L${plotRight + 7},${y}L${plotRight},${y + 3.5}Z`).attr("fill", "#000");
  axis.append("text").attr("x", plotRight + 8).attr("y", y + 5).attr("font-size", 14).attr("fill", color || "#000").text(label);
}
function minor(y) {
  axis.append("line").attr("x1", plotRight).attr("x2", plotRight + 5).attr("y1", y).attr("y2", y).attr("stroke", "#000");
}
[670, 690, 710, 730, 750, 770].forEach(v => minor(yMain(v)));
[680, 700, 720, 740, 760].forEach(v => major(yMain(v), v));
[25, 0].forEach(v => minor(yOsc(v)));
major(yOsc(50), "50");
[250, 750].forEach(v => minor(yVol(v)));
major(yVol(500), "0.5M", "#1c1c8c");
[10, 0, -10].forEach(v => minor(yMacd(v)));
major(yMacd(5), "5");
major(yMacd(-5), "-5");
[10, 20, 30, 50].forEach(v => minor(yDmi(v)));
major(yDmi(40), "40");
[25, 75].forEach(v => minor(yRsi(v)));
major(yRsi(100), "100");
major(yRsi(50), "50");
major(yRsi(0), "0");

// value tags on the right
function tag(y, label, bg, fg, stroke) {
  const g = svg.append("g");
  g.append("path").attr("d", `M${plotRight + 1},${y}L${plotRight + 8},${y - 9}L${W - 1},${y - 9}L${W - 1},${y + 9}L${plotRight + 8},${y + 9}Z`)
    .attr("fill", bg).attr("stroke", stroke || "none");
  fit(g.append("text").attr("x", plotRight + 9).attr("y", y + 4.5).attr("font-size", 12).attr("fill", fg).text(label),
    W - plotRight - 13);
}
tag(yMain(maBlue[maBlue.length - 1]), "722.694", "#1e3ad8", "#fff");
tag(yMain(maGreen[maGreen.length - 1]), "700.838", "#1a9e1a", "#fff");
tag(yMain(maRed[maRed.length - 1]), "692.068", "#e02222", "#fff");
tag(yMain(closes[closes.length - 1]), "680.20", "#000", "#fff");
tag(yOsc(oscHist[oscHist.length - 1]), "30.5654", "#38b2e2", "#fff");
tag(yOsc(oscSignal[oscSignal.length - 1]), "-5.6733", "#f0901e", "#1a1a1a");
tag(yVol(volume[volume.length - 1]), "98700", "#1616b8", "#fff");
tag(yMacd(macdLine[macdLine.length - 1]), "-0.3052", "#e02222", "#fff");
tag(yMacd(macdBand[macdBand.length - 1]), "-1.9492", "#fff", "#000", "#000");
tag(yDmi(diMinus[diMinus.length - 1]), "30.0953", "#e42828", "#fff");
tag(yDmi(adx[adx.length - 1]), "19.0888", "#1a28b4", "#fff");
tag(yDmi(diPlus[diPlus.length - 1]), "9.6145", "#22d022", "#1a1a1a");
tag(yRsi(rsi[rsi.length - 1]), "34.0353", "#1a28b4", "#fff");

// ---- time axis ----
const tAxis = svg.append("g");
days.forEach((d, i) => {
  tAxis.append("text").attr("x", x(i + 0.5)).attr("y", 1004).attr("text-anchor", "middle")
    .attr("font-size", 14).attr("fill", "#000").text(d);
});
months.forEach(m => {
  tAxis.append("text").attr("x", x((m.from + m.to) / 2)).attr("y", 1020).attr("text-anchor", "middle")
    .attr("font-size", 14).attr("fill", "#000").text(m.name);
});
[19, 41].forEach(d => {
  tAxis.append("line").attr("x1", x(d)).attr("x2", x(d)).attr("y1", 986).attr("y2", 1024).attr("stroke", "#000");
});

// ---- footer ----
fit(svg.append("text").attr("x", 1762).attr("y", 1029).attr("font-size", 36).attr("font-style", "italic")
  .attr("font-family", "DejaVu Sans").attr("fill", "#ededed").text("SMGroup"), 128);
const foot = svg.append("g").attr("font-size", 13).attr("fill", "#000");
foot.append("text").attr("x", 3).attr("y", 1034).text("CHMF RX Equity (ОАО Северсталь) Graph 119");
foot.append("text").attr("x", 349).attr("y", 1034).text("60 дн. 60 мин.");
foot.append("text").attr("x", 989).attr("y", 1034).text("Copyright© 2015 Bloomberg Finance L.P.");
foot.append("text").attr("x", 1911).attr("y", 1034).attr("text-anchor", "end").text("06-Oct-2015 06:53:30");
</script>
</body>
</html>
